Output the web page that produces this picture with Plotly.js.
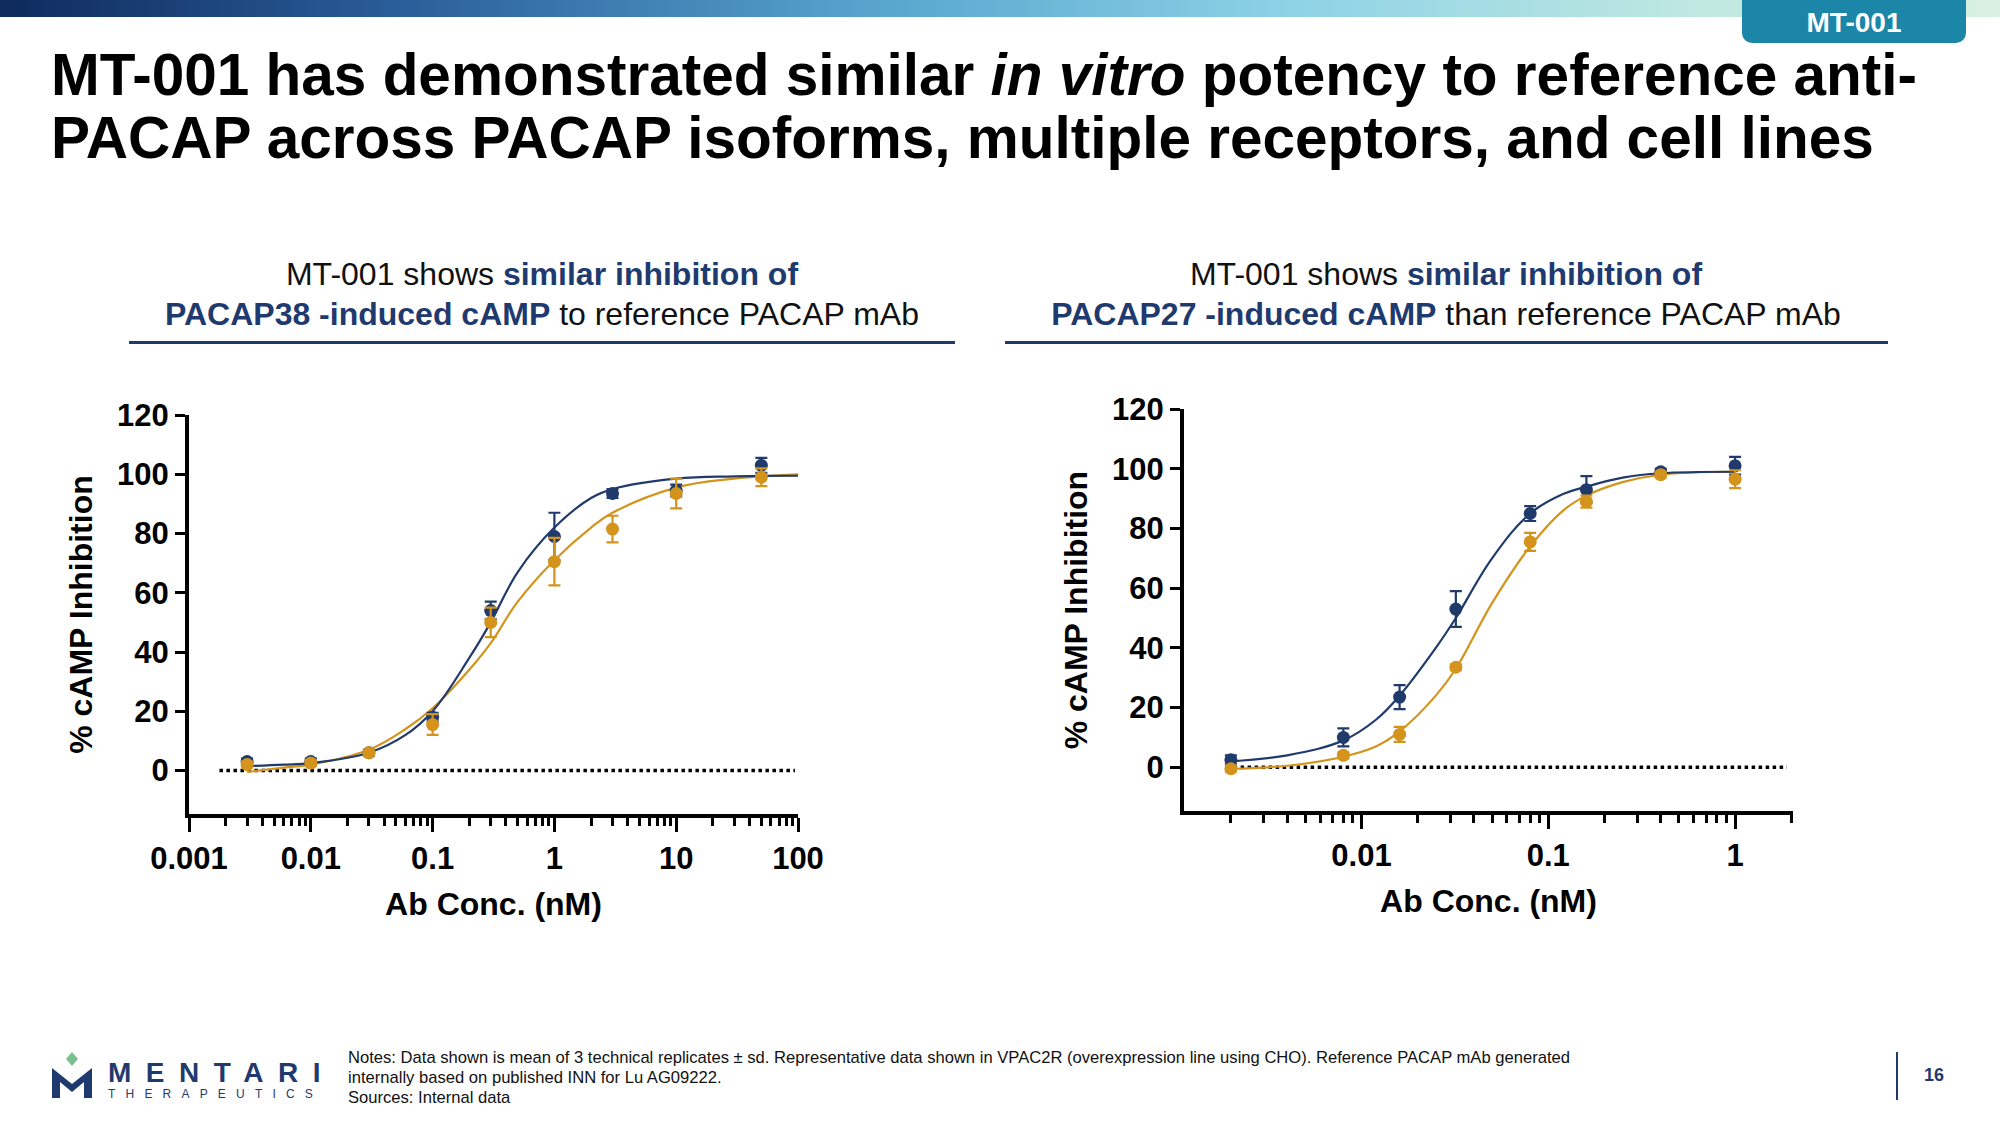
<!DOCTYPE html>
<html><head><meta charset="utf-8">
<script src="https://cdn.plot.ly/plotly-3.0.1.min.js"></script>
<style>
body{margin:0;width:2000px;height:1125px;position:relative;background:#fff;font-family:"Liberation Sans",Arial,sans-serif;overflow:hidden}
#chart{position:absolute;left:0;top:0;width:2000px;height:1125px}
.abs{position:absolute}
.sub{position:absolute;width:860px;text-align:center;font-size:32px;line-height:40px;color:#111}
.sub b{color:#1f3a6e}
.rule{position:absolute;height:3px;background:#1f3a6e}
</style></head><body>
<div id="chart"></div>
<div class="abs" style="left:0;top:0;width:2000px;height:17px;background:linear-gradient(90deg,#0f2a5c 0%,#2a5e9a 20%,#5aa8d0 45%,#8fd3e6 65%,#bfe8e0 85%,#d8f0e0 100%)"></div>
<div class="abs" style="left:1742px;top:0;width:224px;height:43px;background:#1b86a8;border-radius:0 0 10px 10px;color:#fff;font-weight:bold;font-size:28px;line-height:46px;text-align:center">MT-001</div>
<div class="abs" style="left:51px;top:43px;font-size:58.5px;font-weight:bold;line-height:63px;color:#000">MT-001 has demonstrated similar <i>in vitro</i> potency to reference anti-<br>PACAP across PACAP isoforms, multiple receptors, and cell lines</div>
<div class="sub" style="left:112px;top:254px">MT-001 shows <b>similar inhibition of<br>PACAP38 -induced cAMP</b> to reference PACAP mAb</div>
<div class="rule" style="left:129px;top:341px;width:826px"></div>
<div class="sub" style="left:1016px;top:254px">MT-001 shows <b>similar inhibition of<br>PACAP27 -induced cAMP</b> than reference PACAP mAb</div>
<div class="rule" style="left:1005px;top:341px;width:883px"></div>
<div class="abs" style="left:348px;top:1048px;font-size:16.6px;line-height:20px;color:#111">Notes: Data shown is mean of 3 technical replicates ± sd. Representative data shown in VPAC2R (overexpression line using CHO). Reference PACAP mAb generated<br>internally based on published INN for Lu AG09222.<br>Sources: Internal data</div>
<svg class="abs" style="left:50px;top:1050px" width="44" height="50" viewBox="0 0 44 50">
<path d="M22 2 L28 9 L22 16 L16 9 Z" fill="#7bbf8e"/>
<path d="M2 48 V18 L22 34 L42 18 V48 H34 V32 L22 42 L10 32 V48 Z" fill="#1f3a6e"/>
</svg>
<div class="abs" style="left:108px;top:1058px;font-size:28px;font-weight:bold;letter-spacing:14.5px;color:#1f3a6e;line-height:30px">MENTARI</div>
<div class="abs" style="left:108px;top:1087px;font-size:12px;letter-spacing:10.2px;color:#1f3a6e">THERAPEUTICS</div>
<div class="abs" style="left:1896px;top:1052px;width:2px;height:48px;background:#1f3a6e"></div>
<div class="abs" style="left:1924px;top:1065px;font-size:18px;font-weight:bold;color:#1f3a6e">16</div>
<script>
// Left chart: PACAP38
const xL = [0.003, 0.01, 0.03, 0.1, 0.3, 1, 3, 10, 50];
const mtL = [3, 3, 6, 18, 54, 79, 93.5, 94.5, 103];
const mtLerr = [1, 1, 1, 1.5, 3, 8, 1.5, 2, 2.5];
const refL = [2, 2.5, 6, 15.5, 50, 70.5, 81.5, 93.5, 99];
const refLerr = [1, 1, 1, 3.5, 5, 8, 4.5, 5, 3];
const fitXL = [0.003, 0.006, 0.01, 0.03, 0.06, 0.1, 0.2, 0.3, 0.5, 1, 2, 3, 10, 30, 100];
const fitMtL = [1.5, 2, 2.5, 6, 12, 20, 38, 50, 67, 82, 92, 95, 98.5, 99.3, 99.5];
const fitRefL = [-0.5, 1, 2, 7, 14, 21, 34, 43, 57, 71, 82, 87, 95.5, 98.5, 100];
// Right chart: PACAP27
const xR = [0.002, 0.008, 0.016, 0.032, 0.08, 0.16, 0.4, 1];
const mtR = [2.5, 10, 23.5, 53, 85, 93, 99, 101];
const mtRerr = [1.5, 3, 4, 6, 2.5, 4.5, 1, 3];
const refR = [-0.5, 4, 11, 33.5, 75.5, 89, 98, 96.5];
const refRerr = [1, 1, 2.5, 1, 3, 2, 1, 3];
const fitXR = [0.002, 0.004, 0.008, 0.012, 0.016, 0.025, 0.032, 0.05, 0.08, 0.12, 0.16, 0.25, 0.4, 1];
const fitMtR = [2, 4, 9, 16, 24, 40, 50, 70, 85, 91.5, 94, 97, 98.5, 99];
const fitRefR = [-0.5, 0.5, 3.5, 7, 12, 24, 33, 55, 74, 86, 91, 95.5, 98, 99];
const yTicks = [0, 20, 40, 60, 80, 100, 120];

const BLUE = '#1f3a6b', ORANGE = '#d4941c';
function pts(x, y, e, c, xa, ya) {
  return {x, y, xaxis: xa, yaxis: ya, mode: 'markers', type: 'scatter',
    marker: {color: c, size: 13},
    error_y: {type: 'data', array: e, visible: true, color: c, thickness: 2.2, width: 6}, hoverinfo: 'skip'};
}
function fit(x, y, c, xa, ya) {
  return {x, y, xaxis: xa, yaxis: ya, mode: 'lines', type: 'scatter',
    line: {color: c, width: 2.2, shape: 'spline', smoothing: 1.1}, hoverinfo: 'skip'};
}
const data = [
  fit(fitXL, fitRefL, ORANGE, 'x', 'y'), fit(fitXL, fitMtL, BLUE, 'x', 'y'),
  pts(xL, mtL, mtLerr, BLUE, 'x', 'y'), pts(xL, refL, refLerr, ORANGE, 'x', 'y'),
  fit(fitXR, fitRefR, ORANGE, 'x2', 'y2'), fit(fitXR, fitMtR, BLUE, 'x2', 'y2'),
  pts(xR, mtR, mtRerr, BLUE, 'x2', 'y2'), pts(xR, refR, refRerr, ORANGE, 'x2', 'y2')
];
const tf = {family: '"Liberation Sans Narrow","Liberation Sans",Arial', size: 31, color: '#000', weight: 'bold'};
const af = {family: '"Liberation Sans",Arial', size: 32, color: '#000', weight: 'bold'};
function xax(dom, rng) {
  return {domain: dom, type: 'log', range: rng, showline: true, linewidth: 4, linecolor: '#000',
    ticks: 'outside', ticklen: 14, tickwidth: 3, tickcolor: '#000', dtick: 1, showgrid: false, zeroline: false,
    tickfont: tf, exponentformat: 'none',
    minor: {ticks: 'outside', ticklen: 8, tickwidth: 3, tickcolor: '#000', dtick: 'D1', showgrid: false},
    title: {text: 'Ab Conc. (nM)', font: af, standoff: 18}};
}
function yax(dom, anchor) {
  return {domain: dom, anchor, range: [-14.7, 120], showline: true, linewidth: 4, linecolor: '#000',
    tickvals: yTicks, ticks: 'outside', ticklen: 10, tickwidth: 3, tickcolor: '#000', showgrid: false, zeroline: false,
    tickfont: tf, title: {text: '% cAMP Inhibition', font: af, standoff: 16}};
}
const xa1 = xax([0.0945, 0.399], [-3, 2]); xa1.anchor = 'y';
const xa2 = xax([0.592, 0.8965], [-2.95, 0.31]); xa2.anchor = 'y2';
xa2.tickvals = [0.01, 0.1, 1]; xa2.ticktext = ['0.01', '0.1', '1'];
const layout = {
  width: 2000, height: 1125, margin: {l: 0, r: 0, t: 0, b: 0}, showlegend: false,
  paper_bgcolor: '#fff', plot_bgcolor: 'rgba(0,0,0,0)',
  xaxis: xa1, yaxis: yax([0.2764, 0.6311], 'x'),
  xaxis2: xa2, yaxis2: yax([0.279, 0.6364], 'x2'),
  shapes: [
    {type: 'line', xref: 'x domain', yref: 'y', x0: 0.05, x1: 0.995, y0: 0, y1: 0, line: {color: '#000', width: 3.5, dash: 'dot'}, layer: 'below'},
    {type: 'line', xref: 'x2 domain', yref: 'y2', x0: 0.07, x1: 0.99, y0: 0, y1: 0, line: {color: '#000', width: 3.5, dash: 'dot'}, layer: 'below'}
  ]
};
Plotly.newPlot('chart', data, layout, {staticPlot: true});
</script>
</body></html>
